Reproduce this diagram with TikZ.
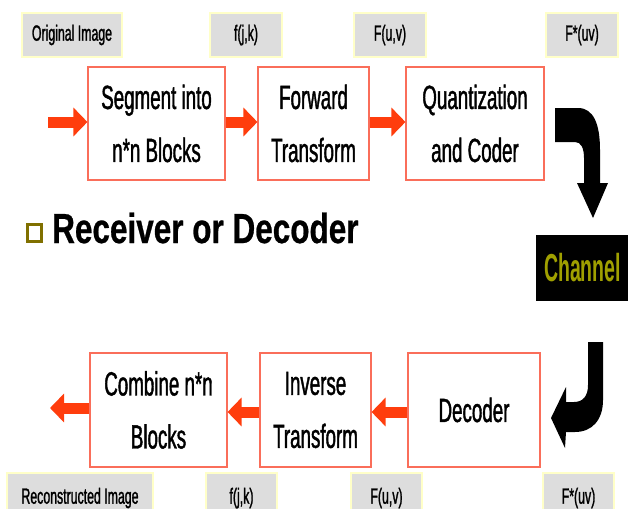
\documentclass[tikz,border=0pt]{standalone}
\usepackage{fontspec}
\setmainfont{Liberation Sans}
\newfontfamily\narrowfont[FakeStretch=0.56,FakeBold=1.2]{Liberation Sans}
\newfontfamily\titlefont[FakeStretch=0.75,FakeBold=0.6]{Liberation Sans Bold}
\newfontfamily\chanfont[FakeStretch=0.5]{Liberation Sans Bold}
\usetikzlibrary{arrows.meta}

\definecolor{boxred}{RGB}{250,110,90}
\definecolor{flowred}{RGB}{255,61,13}
\definecolor{taggray}{RGB}{221,221,221}
\definecolor{tagyellow}{RGB}{255,255,200}
\definecolor{bulletolive}{RGB}{128,112,0}
\definecolor{chanyellow}{RGB}{160,160,0}

\tikzset{
  procbox/.style={draw=boxred, line width=1.1pt, fill=white, align=center,
    inner sep=0pt, font=\narrowfont\fontsize{33.5}{53}\selectfont},
  tag/.style={fill=taggray, draw=tagyellow, line width=1.2pt, inner sep=0pt,
    font=\narrowfont\fontsize{22}{26}\selectfont},
  flow/.style={draw=flowred, line width=11pt,
    -{Triangle[length=14pt,width=28pt]}},
  bendarrow/.style={fill=black},
}

\begin{document}
\begin{tikzpicture}[x=1pt,y=-1pt]
\useasboundingbox (0,0) rectangle (628,508);
\clip (0,0) rectangle (628,508);

% sender chain
\node[procbox, minimum width=137pt, minimum height=113pt] (seg) at (156.5,123.5) {Segment into\\n*n Blocks};
\node[procbox, minimum width=111pt, minimum height=113pt] (fwd) at (313.5,123.5) {Forward\\Transform};
\node[procbox, minimum width=138pt, minimum height=113pt] (quant) at (475,123.5) {Quantization\\and Coder};

% signal names above the sender chain
\node[tag, minimum width=100pt, minimum height=44pt] (t1) at (72,35) {Original Image};
\node[tag, minimum width=72pt, minimum height=44pt] (t2) at (246,35) {f(j,k)};
\node[tag, minimum width=72pt, minimum height=44pt] (t3) at (390,35) {F(u,v)};
\node[tag, minimum width=72pt, minimum height=44pt] (t4) at (582,35) {F*(uv)};

% sender flow
\coordinate (in) at (48,122);
\draw[flow] (in) -- (in -| seg.west);
\draw[flow] ([yshift=1.5pt]seg.east) -- ([yshift=1.5pt]fwd.west);
\draw[flow] ([yshift=1.5pt]fwd.east) -- ([yshift=1.5pt]quant.west);

% heading
\node[draw=bulletolive, fill=white, line width=3pt, minimum width=14pt,
  minimum height=17pt, inner sep=0pt] (bullet) at (34.5,233) {};
\node[anchor=base west, inner sep=0pt,
  font=\titlefont\fontsize{42}{50}\selectfont] (title) at (52,243) {Receiver or Decoder};

% channel
\node[fill=black, minimum width=93pt, minimum height=66pt, inner sep=0pt,
  text=chanyellow, font=\chanfont\fontsize{39}{44}\selectfont] (chan) at (582.5,268) {Channel};

% bent arrow from coder into the channel
\fill[bendarrow] (555,108) -- (578,108) .. controls (594,108) and (600,125) .. (600,150)
  -- (600,183) -- (608,183) -- (593,218) -- (577,183) -- (584,183) -- (584,158)
  .. controls (584,148) and (581,142) .. (575,142) -- (555,142) -- cycle;

% bent arrow from the channel into the decoder
\fill[bendarrow] (588,342) -- (603,342) -- (603,400) .. controls (603,420) and (592,432) .. (575,432)
  -- (566,432) -- (565,448) -- (551,418) -- (566,387) -- (566,402) -- (574,402)
  .. controls (583,402) and (588,396) .. (588,385) -- cycle;

% receiver chain
\node[procbox, minimum width=137pt, minimum height=114pt] (comb) at (158.5,410) {Combine n*n\\Blocks};
\node[procbox, minimum width=111pt, minimum height=114pt] (inv) at (315.5,410) {Inverse\\Transform};
\node[procbox, minimum width=132pt, minimum height=114pt] (dec) at (474,410) {Decoder};

% receiver flow
\coordinate (out) at (50,408);
\draw[flow] ([yshift=-2pt]dec.west) -- ([yshift=-2pt]inv.east);
\draw[flow] ([yshift=-2pt]inv.west) -- ([yshift=-2pt]comb.east);
\draw[flow] (out -| comb.west) -- (out);

% signal names below the receiver chain
\node[tag, minimum width=146pt, minimum height=50pt] (b1) at (80,498) {Reconstructed Image};
\node[tag, minimum width=71pt, minimum height=50pt] (b2) at (241.5,498) {f(j,k)};
\node[tag, minimum width=71pt, minimum height=50pt] (b3) at (386.5,498) {F(u,v)};
\node[tag, minimum width=71pt, minimum height=50pt] (b4) at (578.5,498) {F*(uv)};
\end{tikzpicture}
\end{document}
